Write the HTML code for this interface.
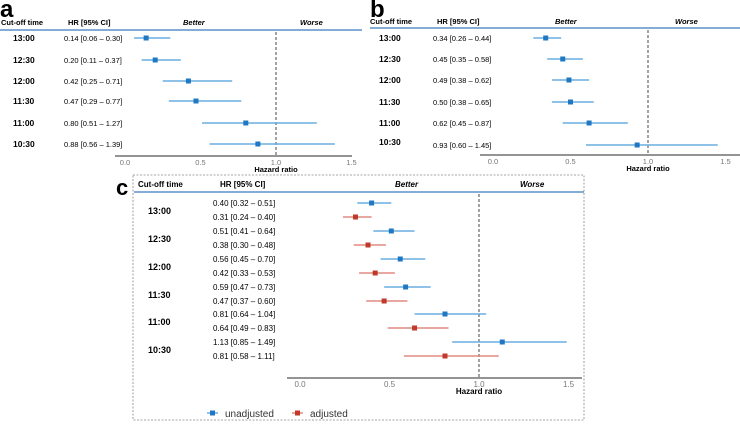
<!DOCTYPE html>
<html><head><meta charset="utf-8"><style>
body{margin:0;background:#fff;width:740px;height:422px;overflow:hidden}
svg{font-family:"Liberation Sans",sans-serif}
</style></head><body>
<svg id="s" width="740" height="422"></svg>
<script>
const cutoffs = ["13:00","12:30","12:00","11:30","11:00","10:30"];
const aHR = [0.14,0.20,0.42,0.47,0.80,0.88];
const aLo = [0.06,0.11,0.25,0.29,0.51,0.56];
const aHi = [0.30,0.37,0.71,0.77,1.27,1.39];
const bHR = [0.34,0.45,0.49,0.50,0.62,0.93];
const bLo = [0.26,0.35,0.38,0.38,0.45,0.60];
const bHi = [0.44,0.58,0.62,0.65,0.87,1.45];
const cUnHR = [0.40,0.51,0.56,0.59,0.81,1.13];
const cUnLo = [0.32,0.41,0.45,0.47,0.64,0.85];
const cUnHi = [0.51,0.64,0.70,0.73,1.04,1.49];
const cAdHR = [0.31,0.38,0.42,0.47,0.64,0.81];
const cAdLo = [0.24,0.30,0.33,0.37,0.49,0.58];
const cAdHi = [0.40,0.48,0.53,0.60,0.83,1.11];
const ticks = [0.0,0.5,1.0,1.5];
const tickLabels = ["0.0","0.5","1.0","1.5"];

const S=document.getElementById('s');const NS='http://www.w3.org/2000/svg';
function el(t,a,txt){const e=document.createElementNS(NS,t);for(const k in a)e.setAttribute(k,a[k]);if(txt!==undefined)e.textContent=txt;S.appendChild(e);return e;}
function fmt(h,l,u){return h.toFixed(2)+" ["+l.toFixed(2)+" \u2013 "+u.toFixed(2)+"]";}
const BLUE="#1f78c1",RED="#c0392b",LB="#6aaee0",LR="#e08a80";

function panel(p){
  const X=v=>p.x0+v*p.k;
  let e=el('text',{x:p.lx,y:p.ly,'font-size':24,'font-weight':'bold',fill:'#000'},p.letter);
  
  
  const hd=[["Cut-off time",p.hx0,'bold','normal'],["HR [95% CI]",p.hx1,'bold','normal'],["Better",p.bx,'bold','italic'],["Worse",p.wx,'bold','italic']];
  hd.forEach(h=>{e=el('text',{x:h[1],y:p.hy,'font-size':p.fs,'font-weight':h[2],'font-style':h[3]},h[0]);
    
    });
  e=el('line',{x1:p.hl0,x2:p.hl1,y1:p.hly,y2:p.hly,stroke:'#3a7bbf','stroke-width':1.3});
  
  e=el('line',{x1:X(1),x2:X(1),y1:p.hly+2,y2:p.axy,stroke:'#333','stroke-dasharray':'3,2','stroke-width':0.9});
  
  e=el('line',{x1:p.ax0,x2:p.ax1,y1:p.axy,y2:p.axy,stroke:'#555','stroke-width':1.2});
  
  ticks.forEach((t,i)=>{e=el('text',{x:X(t),y:p.axy+9,'font-size':p.fs,fill:'#777','text-anchor':'middle'},tickLabels[i]);
    });
  e=el('text',{x:X(1),y:p.axy+16,'font-size':p.fs,'font-weight':'bold','text-anchor':'middle'},"Hazard ratio");
  
  cutoffs.forEach((c,i)=>{
    const y=p.rows[i];
    e=el('text',{x:p.cx,y:p.labY(i),'font-size':p.fs+1,'font-weight':'bold'},c);
    
    p.series.forEach(sr=>{
      const yy=y+sr.dy;
      e=el('text',{x:p.tx,y:yy+3,'font-size':p.fs},fmt(sr.h[i],sr.l[i],sr.u[i]));
      
      e=el('line',{x1:X(sr.l[i]),x2:X(sr.u[i]),y1:yy,y2:yy,stroke:sr.lc,'stroke-width':1.6});
      
      e=el('rect',{x:X(sr.h[i])-2.5,y:yy-2.5,width:5,height:5,fill:sr.c});
      
    });
  });
}
panel({letter:'a',lx:0,ly:17,fs:7.5,hx0:1,hx1:68,bx:183,wx:300,hy:25,hl0:0,hl1:362,hly:30,x0:125,k:151,ax0:115,ax1:352,axy:156,
  rows:[38,60,81,101,123,144],cx:13,labY:i=>[38,60,81,101,123,144][i]+3,tx:64,
  series:[{h:aHR,l:aLo,u:aHi,c:BLUE,lc:LB,dy:0}]});
panel({letter:'b',lx:370,ly:17,fs:7.5,hx0:370,hx1:437,bx:555,wx:675,hy:24,hl0:370,hl1:740,hly:28,x0:493,k:155,ax0:480,ax1:740,axy:155,
  rows:[38,59,80,102,123,145],cx:379,labY:i=>[38,59,80,102,123,142][i]+3,tx:433,
  series:[{h:bHR,l:bLo,u:bHi,c:BLUE,lc:LB,dy:0}]});
// panel c box
let b=el('rect',{x:133,y:175,width:451,height:245,fill:'none',stroke:'#888','stroke-dasharray':'2,1.5','stroke-width':0.8});

let cl=el('text',{x:116,y:195,'font-size':22,'font-weight':'bold'},'c');

const cRows=[210,238,266,294,321,349];
panel({letter:'',lx:-50,ly:-50,fs:8,hx0:138,hx1:220,bx:395,wx:520,hy:187,hl0:134,hl1:584,hly:192,x0:300,k:179,ax0:287,ax1:582,axy:378,
  rows:cRows,cx:148,labY:i=>cRows[i]+4,tx:213,
  series:[{h:cUnHR,l:cUnLo,u:cUnHi,c:BLUE,lc:LB,dy:-7},{h:cAdHR,l:cAdLo,u:cAdHi,c:RED,lc:LR,dy:7}]});
// legend
[[207,BLUE,LB,"unadjusted",'legend-unadjusted'],[292,RED,LR,"adjusted",'legend-adjusted']].forEach(l=>{
  let e=el('line',{x1:l[0],x2:l[0]+11,y1:413,y2:413,stroke:l[2],'stroke-width':1.5});
  
  e=el('rect',{x:l[0]+3,y:410.5,width:5,height:5,fill:l[1]});
  
  e=el('text',{x:l[0]+18,y:417,'font-size':10,fill:'#333'},l[3]);
  
});
</script>
</body></html>
